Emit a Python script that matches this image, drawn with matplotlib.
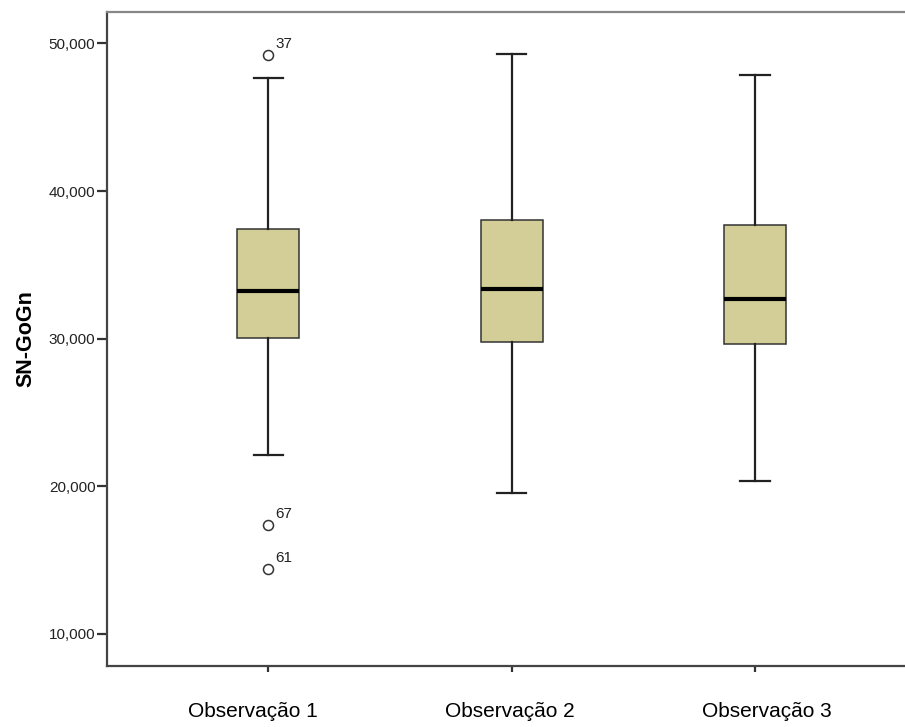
import matplotlib
matplotlib.use("Agg")
import matplotlib.pyplot as plt
import matplotlib.transforms as mtransforms

plt.rcParams['font.family'] = ['Liberation Sans', 'DejaVu Sans']

# values (thousands)
groups = ["Observação 1", "Observação 2", "Observação 3"]
whislo = [22.15, 19.55, 20.35]
q1 = [30.05, 29.75, 29.65]
med = [33.25, 33.4, 32.68]
q3 = [37.45, 38.03, 37.72]
whishi = [47.63, 49.3, 47.83]
fliers = [[49.21, 17.4, 14.39], [], []]
flier_ids = [["37", "67", "61"], [], []]

W, H = 905, 727
fig = plt.figure(figsize=(W / 100, H / 100), dpi=100)
ax = fig.add_axes([106.5 / W, 1 - 666 / H, (W - 106.5) / W, (666 - 11.7) / H])

stats = []
for i, g in enumerate(groups):
    stats.append(dict(label=g, whislo=whislo[i], q1=q1[i], med=med[i],
                      q3=q3[i], whishi=whishi[i], fliers=fliers[i]))

ax.bxp(stats, positions=[1, 2, 3], widths=0.255, capwidths=0.12,
       patch_artist=True, showfliers=True,
       boxprops=dict(facecolor='#d3ce97', edgecolor='#333333', linewidth=1.1),
       medianprops=dict(color='black', linewidth=3),
       whiskerprops=dict(color='#222222', linewidth=1.6),
       capprops=dict(color='#222222', linewidth=1.6),
       flierprops=dict(marker='o', markersize=7.2, markerfacecolor='white',
                       markeredgecolor='#333333', markeredgewidth=1.1))

for i in range(len(groups)):
    for v, lab in zip(fliers[i], flier_ids[i]):
        ax.annotate(lab, (i + 1, v), xytext=(5, 5), textcoords='offset points',
                    fontsize=11, color='#222222')

ax.set_xlim(0.335, 3.616)
ax.set_ylim(7.83, 52.15)
ax.set_yticks([10, 20, 30, 40, 50])
ax.set_yticklabels(["10,000", "20,000", "30,000", "40,000", "50,000"])
ax.set_xticks([1, 2, 3])
ax.set_xticklabels(groups, fontsize=15)
ax.set_ylabel("SN-GoGn", fontsize=15.5, fontweight='bold', labelpad=9)

ax.tick_params(axis='y', direction='out', length=7, width=1.6, color='#333333',
               labelsize=11, labelcolor='#222222', pad=1)
ax.tick_params(axis='x', direction='out', length=4, width=1.6, color='#333333',
               pad=22, labelcolor='black')

# SPSS places the category labels a little off their ticks
shifts = [-15, -2, 12]
for lbl, dx in zip(ax.get_xticklabels(), shifts):
    lbl.set_transform(lbl.get_transform() +
                      mtransforms.ScaledTranslation(dx / 100, 0, fig.dpi_scale_trans))

ax.spines['right'].set_visible(False)
ax.spines['top'].set_color('#888888')
ax.spines['top'].set_linewidth(1.6)
for s in ['left', 'bottom']:
    ax.spines[s].set_color('#444444')
    ax.spines[s].set_linewidth(1.6)

fig.savefig("out.png", dpi=100)
